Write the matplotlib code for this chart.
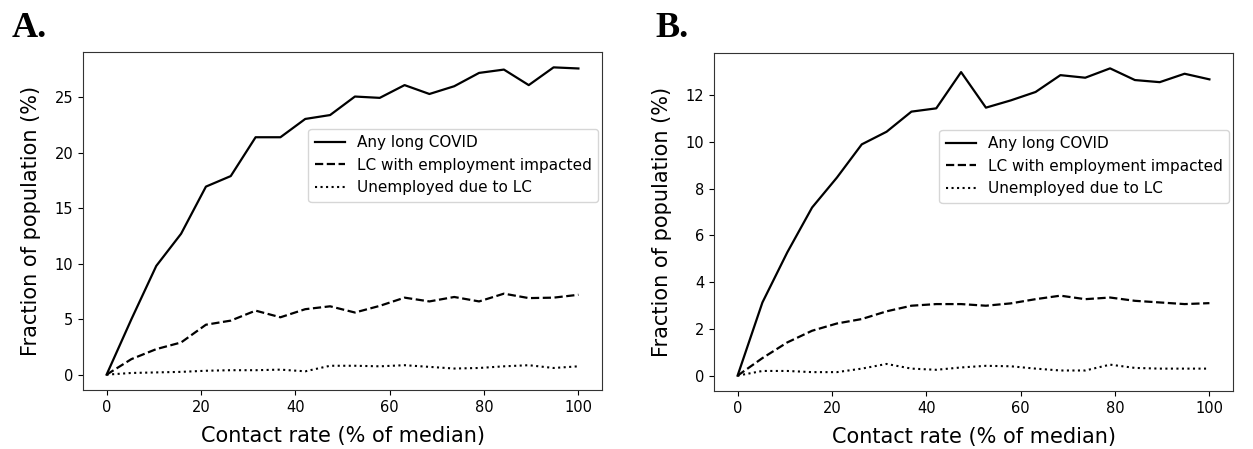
import numpy as np
import matplotlib
matplotlib.use("Agg")
import matplotlib.pyplot as plt

contact_rate = np.linspace(0, 100, 20)

labels = ["Any long COVID", "LC with employment impacted", "Unemployed due to LC"]

a_any = [0.0, 5.0, 9.8, 12.7, 16.95, 17.9, 21.4, 21.4, 23.05, 23.4,
         25.07, 24.95, 26.1, 25.3, 26.0, 27.2, 27.5, 26.1, 27.7, 27.6]
a_emp = [0.0, 1.4, 2.3, 2.9, 4.5, 4.87, 5.77, 5.17, 5.9, 6.16,
         5.6, 6.2, 6.94, 6.6, 7.0, 6.6, 7.3, 6.9, 6.94, 7.2]
a_unemp = [0.0, 0.15, 0.2, 0.25, 0.35, 0.4, 0.4, 0.45, 0.3, 0.8,
           0.8, 0.75, 0.85, 0.7, 0.55, 0.6, 0.75, 0.85, 0.6, 0.75]

b_any = [0.0, 3.13, 5.27, 7.19, 8.47, 9.89, 10.43, 11.29, 11.43, 12.98,
         11.46, 11.77, 12.13, 12.85, 12.74, 13.14, 12.64, 12.55, 12.91, 12.67]
b_emp = [0.0, 0.75, 1.42, 1.92, 2.23, 2.42, 2.75, 2.99, 3.06, 3.06,
         2.99, 3.09, 3.27, 3.42, 3.27, 3.34, 3.2, 3.13, 3.06, 3.1]
b_unemp = [0.0, 0.2, 0.2, 0.15, 0.15, 0.3, 0.5, 0.3, 0.25, 0.35,
           0.42, 0.4, 0.3, 0.22, 0.22, 0.47, 0.33, 0.3, 0.3, 0.3]

panels = [("A.", a_any, a_emp, a_unemp), ("B.", b_any, b_emp, b_unemp)]

fig = plt.figure(figsize=(12.53, 4.49), dpi=100)
W, H = 1253, 449
axes_px = [(83, 52, 602, 390), (714, 53, 1233, 391)]
letter_px = [(12, 37), (655, 37)]

for (title, s_any, s_emp, s_unemp), (l, t, r, b), (lx, ly) in zip(panels, axes_px, letter_px):
    ax = fig.add_axes([l / W, 1 - b / H, (r - l) / W, (b - t) / H])
    ax.plot(contact_rate, s_any, color="black", lw=1.6, ls="-", label=labels[0])
    ax.plot(contact_rate, s_emp, color="black", lw=1.6, ls="--", label=labels[1])
    ax.plot(contact_rate, s_unemp, color="black", lw=1.5, ls=":", label=labels[2])
    ax.set_xlabel("Contact rate (% of median)", fontsize=15, labelpad=8)
    ax.set_ylabel("Fraction of population (%)", fontsize=15, labelpad=10)
    ax.tick_params(labelsize=10.5)
    ax.set_xticks([0, 20, 40, 60, 80, 100])
    for sp in ax.spines.values():
        sp.set_color("#333333")
    ax.legend(loc="upper right", bbox_to_anchor=(0.993, 0.772), borderaxespad=0,
              fontsize=11)
    fig.text(lx / W, 1 - ly / H, title, fontsize=26, fontweight="bold",
             family="Liberation Serif", va="baseline", ha="left")

fig.savefig("out.png", dpi=100)
